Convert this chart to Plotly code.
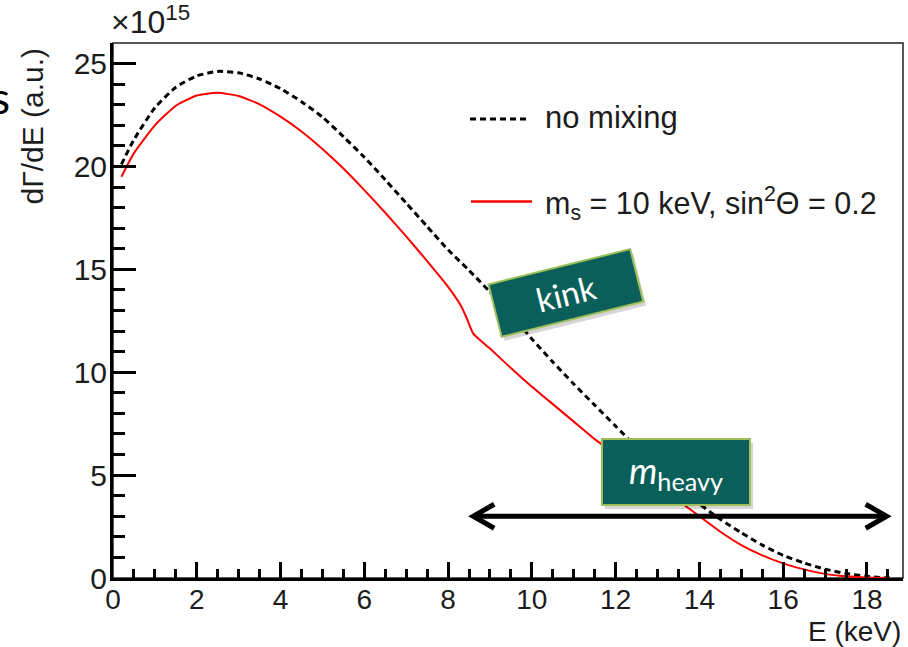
import plotly.graph_objects as go

# Tritium beta spectrum, with and without a 10 keV sterile admixture (units of 1e15)
E_nomix = [0.2, 0.5, 1.0, 1.5, 2.0, 2.5, 3.0, 3.5, 4.0, 4.5, 5.0, 5.5, 6.0, 6.5, 7.0,
           7.5, 8.0, 8.5, 9.0, 9.5, 10.0, 10.5, 11.0, 11.5, 12.0, 12.5, 13.0, 13.5,
           14.0, 14.5, 15.0, 15.5, 16.0, 16.5, 17.0, 17.5, 18.0, 18.3, 18.55]
rate_nomix = [20.1, 21.3, 22.85, 23.85, 24.4, 24.62, 24.55, 24.25, 23.78, 23.15, 22.4,
              21.45, 20.45, 19.35, 18.22, 17.08, 15.95, 14.95, 13.9, 12.8, 11.62, 10.5,
              9.43, 8.4, 7.38, 6.35, 5.35, 4.45, 3.6, 2.85, 2.2, 1.6, 1.1, 0.73,
              0.43, 0.22, 0.08, 0.02, 0.0]

E_mix = [0.2, 0.5, 1.0, 1.5, 2.0, 2.5, 3.0, 3.5, 4.0, 4.5, 5.0, 5.5, 6.0, 6.5, 7.0,
         7.5, 8.0, 8.3, 8.45, 8.6, 9.0, 9.5, 10.0, 10.5, 11.0, 11.5, 12.0, 12.5,
         13.0, 13.5, 14.0, 14.5, 15.0, 15.5, 16.0, 16.5, 17.0, 17.5, 18.0, 18.55]
rate_mix = [19.5, 20.65, 22.0, 22.95, 23.45, 23.58, 23.42, 23.02, 22.42, 21.7, 20.85,
            19.9, 18.85, 17.75, 16.6, 15.4, 14.15, 13.25, 12.6, 11.88, 11.15,
            10.2, 9.3, 8.45, 7.6, 6.75, 6.0, 5.25, 4.5, 3.75, 3.0, 2.25, 1.6,
            1.1, 0.71, 0.42, 0.2, 0.08, 0.02, 0.0]

x_ticks = [0, 2, 4, 6, 8, 10, 12, 14, 16, 18]
y_ticks = [0, 5, 10, 15, 20, 25]

E_endpoint = 18.6     # keV
m_sterile = 10.0      # keV
E_kink = E_endpoint - m_sterile
arrow_right = 18.47
arrow_level = 3.0

label_nomix = "no mixing"
label_mix = "m<sub>s</sub> = 10 keV, sin<sup>2</sup>Θ = 0.2"

FONT = "Liberation Sans"
TXT = "#1c1c1c"
BOX_FILL = "#0a5f5a"
BOX_EDGE = "#9cbf5a"

fig = go.Figure()
fig.add_trace(go.Scatter(x=E_nomix, y=rate_nomix, mode="lines",
                         line=dict(color="black", width=3, dash="6px,4px",
                                   shape="spline", smoothing=0.6),
                         showlegend=False, hoverinfo="skip"))
fig.add_trace(go.Scatter(x=E_mix, y=rate_mix, mode="lines",
                         line=dict(color="#ff0000", width=2, shape="spline",
                                   smoothing=0.5),
                         showlegend=False, hoverinfo="skip"))

L, R, T, B = 113, 5, 43, 69
W, H = 908, 647
PW, PH = W - L - R, H - T - B


def px(x):
    return (x - L) / PW


def py(y):
    return (H - B - y) / PH


shapes = []
# thin frame on top/right
shapes.append(dict(type="rect", xref="paper", yref="paper", x0=0, x1=1, y0=0, y1=1,
                   line=dict(color="#222", width=1.5), layer="below"))
# legend samples
shapes.append(dict(type="line", xref="paper", yref="paper",
                   x0=px(470), x1=px(530), y0=py(119), y1=py(119),
                   line=dict(color="black", width=3, dash="6px,4px")))
shapes.append(dict(type="line", xref="paper", yref="paper",
                   x0=px(471), x1=px(532), y0=py(201.5), y1=py(201.5),
                   line=dict(color="#ff0000", width=2.5)))
# double arrow spanning the heavy-mass region
shapes.append(dict(type="line", xref="x", yref="y", x0=E_kink + 0.05, x1=arrow_right - 0.05,
                   y0=arrow_level, y1=arrow_level, line=dict(color="black", width=5)))
shapes.append(dict(type="path", xref="x", yref="y", xsizemode="pixel", ysizemode="pixel",
                   xanchor=arrow_right, yanchor=arrow_level,
                   path="M -21,12 L 0,0 L -21,-12", line=dict(color="black", width=5)))
shapes.append(dict(type="path", xref="x", yref="y", xsizemode="pixel", ysizemode="pixel",
                   xanchor=E_kink, yanchor=arrow_level,
                   path="M 21,12 L 0,0 L 21,-12", line=dict(color="black", width=5)))

annotations = []
# y-axis title, ROOT style (aligned to top)
annotations.append(dict(text="dΓ/dE (a.u.)", xref="paper", yref="paper",
                        x=px(32), y=py(46), xanchor="center", yanchor="top",
                        textangle=-90, showarrow=False,
                        font=dict(family=FONT, size=30, color=TXT)))
# x-axis title, aligned right
annotations.append(dict(text="E (keV)", xref="paper", yref="paper",
                        x=1.0, y=py(631), xanchor="right", yanchor="middle",
                        showarrow=False, font=dict(family=FONT, size=28, color=TXT)))
# exponent
annotations.append(dict(text="×10<sup>15</sup>", xref="paper", yref="paper",
                        x=px(109), y=py(42), xanchor="left", yanchor="bottom",
                        showarrow=False, font=dict(family=FONT, size=32, color=TXT)))
# legend texts
annotations.append(dict(text=label_nomix, xref="paper", yref="paper",
                        x=px(543), y=py(117), xanchor="left", yanchor="middle",
                        showarrow=False, font=dict(family=FONT, size=31, color=TXT)))
annotations.append(dict(text=label_mix, xref="paper", yref="paper",
                        x=px(543), y=py(203), xanchor="left", yanchor="middle",
                        showarrow=False, font=dict(family=FONT, size=30.5, color=TXT)))
# partially visible letter on the far left
annotations.append(dict(text="s", xref="paper", yref="paper",
                        x=px(12), y=py(97), xanchor="right", yanchor="middle",
                        showarrow=False, font=dict(family="Lato", size=44, color="black")))

# callout boxes (soft shadow first, then box)
kink_x, kink_y = 10.81, 13.83
heavy_x, heavy_y = 13.45, 5.16
for (bx, by, txt, ang, w, h, fs) in [
        (kink_x, kink_y, "kink", -14, 140, 48, 33),
        (heavy_x, heavy_y, "<i>m</i><sub>heavy</sub>", 0, 142, 60, 36)]:
    annotations.append(dict(text=" ", x=bx, y=by, xref="x", yref="y", showarrow=False,
                            textangle=ang, width=w, height=h, borderpad=2, borderwidth=2,
                            bgcolor="rgba(0,0,0,0.16)", bordercolor="rgba(0,0,0,0)",
                            xshift=3, yshift=-4, font=dict(size=fs)))
    annotations.append(dict(text=txt, x=bx, y=by, xref="x", yref="y", showarrow=False,
                            textangle=ang, width=w, height=h, borderpad=2, borderwidth=2,
                            bgcolor=BOX_FILL, bordercolor=BOX_EDGE,
                            font=dict(family="Lato", size=fs, color="white")))

fig.update_layout(
    width=W, height=H,
    margin=dict(l=L, r=R, t=T, b=B, pad=0),
    paper_bgcolor="white", plot_bgcolor="white",
    shapes=shapes, annotations=annotations,
    showlegend=False,
    xaxis=dict(range=[0, 18.86], tickvals=x_ticks, ticktext=[str(v) for v in x_ticks],
               ticks="inside", ticklen=16, tickwidth=2.5, tickcolor="black",
               ticklabelstandoff=-6,
               minor=dict(dtick=0.5, tick0=0, ticks="inside", ticklen=9, tickwidth=2.5,
                          tickcolor="black"),
               showline=True, linewidth=3, linecolor="black", showgrid=False,
               zeroline=False, tickfont=dict(family=FONT, size=28, color=TXT)),
    yaxis=dict(range=[0, 26], tickvals=y_ticks, ticktext=[str(v) for v in y_ticks],
               ticks="inside", ticklen=23, tickwidth=2.5, tickcolor="black",
               ticklabelstandoff=-3,
               minor=dict(dtick=1, tick0=0, ticks="inside", ticklen=12, tickwidth=2.5,
                          tickcolor="black"),
               showline=True, linewidth=3, linecolor="black", showgrid=False,
               zeroline=False, tickfont=dict(family=FONT, size=30, color=TXT)),
)

fig.write_html("out.html")
